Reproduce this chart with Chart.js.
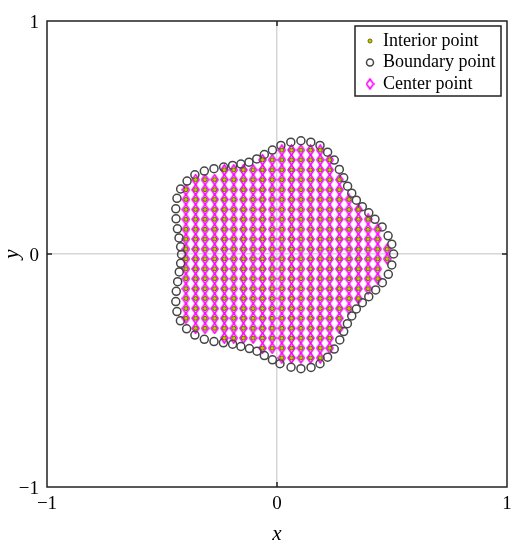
<!DOCTYPE html>
<html>
<head>
<meta charset="utf-8">
<script src="https://cdn.jsdelivr.net/npm/chart.js@4.4.1/dist/chart.umd.min.js"></script>
<style>
  html, body { margin: 0; padding: 0; background: #fff; }
  #wrap { width: 523px; height: 550px; }
</style>
</head>
<body>
<div id="wrap"><canvas id="chart" width="523" height="550"></canvas></div>
<script>
// grid columns / rows of the interior (center) points
const colX = [-0.396, -0.354, -0.313, -0.271, -0.229, -0.188, -0.146, -0.104, -0.063, -0.021,
  0.021, 0.063, 0.104, 0.146, 0.188, 0.229, 0.271, 0.313, 0.354, 0.396, 0.438, 0.479];
const rowY = [0.446, 0.404, 0.361, 0.319, 0.276, 0.234, 0.191, 0.149, 0.106, 0.064, 0.021,
  -0.021, -0.064, -0.106, -0.149, -0.191, -0.234, -0.276, -0.319, -0.361, -0.404, -0.446];
// first / last column index filled on each row
const rowFirst = [10, 8, 4, 1, 0, 0, 0, 0, 0, 0, 0, 0, 0, 0, 0, 0, 0, 0, 1, 4, 8, 10];
const rowLast  = [14, 15, 15, 16, 16, 17, 18, 19, 20, 20, 21, 21, 20, 20, 19, 18, 17, 16, 16, 15, 15, 14];

// boundary points, counter-clockwise from the right
const boundaryX = [0.507, 0.499, 0.483, 0.457, 0.426, 0.399, 0.371, 0.345, 0.325, 0.307, 0.290, 0.271, 0.249, 0.220, 0.187, 0.147, 0.104, 0.060, 0.017,
  -0.020, -0.055, -0.088, -0.122, -0.157, -0.193, -0.232, -0.274, -0.316, -0.357, -0.391, -0.419, -0.435, -0.440, -0.439, -0.433, -0.426, -0.419, -0.415,
  -0.419, -0.425, -0.432, -0.438, -0.440, -0.435, -0.420, -0.393, -0.357, -0.316, -0.274, -0.233, -0.193, -0.157, -0.120, -0.087, -0.055, -0.020, 0.013,
  0.061, 0.104, 0.148, 0.187, 0.220, 0.249, 0.273, 0.290, 0.306, 0.325, 0.345, 0.371, 0.399, 0.429, 0.458, 0.484, 0.499];
const boundaryY = [0.000, 0.042, 0.078, 0.116, 0.149, 0.177, 0.203, 0.231, 0.261, 0.291, 0.327, 0.363, 0.403, 0.437, 0.466, 0.480, 0.486, 0.480, 0.466,
  0.446, 0.427, 0.408, 0.394, 0.386, 0.380, 0.373, 0.366, 0.356, 0.340, 0.313, 0.279, 0.239, 0.194, 0.151, 0.108, 0.069, 0.031, -0.002,
  -0.040, -0.077, -0.119, -0.160, -0.204, -0.247, -0.287, -0.321, -0.348, -0.366, -0.376, -0.381, -0.387, -0.397, -0.406, -0.417, -0.436, -0.454, -0.471,
  -0.486, -0.492, -0.487, -0.471, -0.443, -0.408, -0.369, -0.333, -0.299, -0.266, -0.236, -0.209, -0.183, -0.154, -0.123, -0.087, -0.047];

const tickValues = [-1, 0, 1];
const tickLabels = ["\u22121", "0", "1"];
const seriesNames = ["Interior point", "Boundary point", "Center point"];

const SERIF = "'Liberation Serif', 'Times New Roman', serif";

// build point tables
const interior = [];
rowY.forEach((y, r) => {
  for (let c = rowFirst[r]; c <= rowLast[r]; c++) interior.push({ x: colX[c], y: y });
});
const boundary = boundaryX.map((x, i) => ({ x: x, y: boundaryY[i] }));

// magenta diamond marker (slightly taller than wide)
const diamond = document.createElement("canvas");
diamond.width = 9; diamond.height = 12;
(function () {
  const c = diamond.getContext("2d");
  c.strokeStyle = "#ff00ff";
  c.lineWidth = 1.6;
  c.beginPath();
  c.moveTo(4.5, 1); c.lineTo(8, 6); c.lineTo(4.5, 11); c.lineTo(1, 6); c.closePath();
  c.stroke();
})();

const styles = [
  { pointStyle: "circle", radius: 2, borderWidth: 1, borderColor: "#6b6b00", backgroundColor: "#c8c400" },
  { pointStyle: "circle", radius: 4, borderWidth: 1.5, borderColor: "#454545", backgroundColor: "rgba(0,0,0,0)" },
  { pointStyle: diamond, radius: 5, borderWidth: 0, borderColor: "#ff00ff", backgroundColor: "rgba(0,0,0,0)" }
];

function ds(label, data, s) {
  return {
    label: label,
    data: data,
    showLine: false,
    pointStyle: s.pointStyle,
    pointRadius: s.radius,
    pointBorderWidth: s.borderWidth,
    pointBorderColor: s.borderColor,
    pointBackgroundColor: s.backgroundColor
  };
}

// box, inner ticks and the legend
const framePlugin = {
  id: "frame",
  afterDraw(chart) {
    const ctx = chart.ctx;
    const a = chart.chartArea;
    const x0 = chart.scales.x.getPixelForValue(0);
    const y0 = chart.scales.y.getPixelForValue(0);
    ctx.save();
    ctx.strokeStyle = "#222";
    ctx.lineWidth = 1.5;
    ctx.strokeRect(a.left, a.top, a.right - a.left, a.bottom - a.top);
    ctx.beginPath();
    ctx.moveTo(x0, a.bottom); ctx.lineTo(x0, a.bottom - 5);
    ctx.moveTo(x0, a.top); ctx.lineTo(x0, a.top + 5);
    ctx.moveTo(a.left, y0); ctx.lineTo(a.left + 5, y0);
    ctx.moveTo(a.right, y0); ctx.lineTo(a.right - 5, y0);
    ctx.stroke();

    // legend
    const lx = 355, ly = 26, lw = 146, lh = 70;
    ctx.fillStyle = "#fff";
    ctx.fillRect(lx, ly, lw, lh);
    ctx.strokeStyle = "#222";
    ctx.lineWidth = 1.5;
    ctx.strokeRect(lx, ly, lw, lh);
    ctx.font = "18px " + SERIF;
    ctx.textBaseline = "middle";
    seriesNames.forEach((name, i) => {
      const cy = ly + 15 + i * 21.5;
      const s = styles[i];
      ctx.fillStyle = s.backgroundColor;
      ctx.strokeStyle = s.borderColor;
      ctx.lineWidth = s.borderWidth;
      Chart.helpers.drawPoint(ctx, { pointStyle: s.pointStyle, radius: i === 0 ? 2 : 3.5, borderWidth: s.borderWidth, rotation: 0 }, lx + 15, cy);
      ctx.fillStyle = "#000";
      ctx.fillText(name, lx + 28, cy);
    });
    ctx.restore();
  }
};

const gridColor = (c) => (c.tick && c.tick.value === 0 ? "#d6d6d6" : "rgba(0,0,0,0)");

new Chart(document.getElementById("chart"), {
  type: "scatter",
  data: {
    datasets: [
      ds(seriesNames[0], interior, styles[0]),
      ds(seriesNames[1], boundary, styles[1]),
      ds(seriesNames[2], interior, styles[2])
    ]
  },
  options: {
    responsive: false,
    animation: false,
    devicePixelRatio: 1,
    events: [],
    layout: { padding: { top: 21, right: 16, left: 0, bottom: 0 } },
    plugins: {
      legend: { display: false },
      tooltip: { enabled: false }
    },
    scales: {
      x: {
        type: "linear",
        min: -1, max: 1,
        afterBuildTicks: (s) => { s.ticks = tickValues.map(v => ({ value: v })); },
        afterFit: (s) => { s.height = 63; },
        ticks: {
          callback: (v) => tickLabels[tickValues.indexOf(v)],
          font: { family: SERIF, size: 19 },
          color: "#000",
          padding: 6,
          maxRotation: 0
        },
        grid: { color: gridColor, lineWidth: 1.5, drawTicks: false },
        border: { display: false },
        title: {
          display: true, text: "x", color: "#000",
          font: { family: SERIF, size: 21, style: "italic" },
          padding: { top: 0, bottom: 3 }
        }
      },
      y: {
        type: "linear",
        min: -1, max: 1,
        afterBuildTicks: (s) => { s.ticks = tickValues.map(v => ({ value: v })); },
        afterFit: (s) => { s.width = 47; },
        ticks: {
          callback: (v) => tickLabels[tickValues.indexOf(v)],
          font: { family: SERIF, size: 19 },
          color: "#000",
          padding: 8,
          labelOffset: 2
        },
        grid: { color: gridColor, lineWidth: 1.5, drawTicks: false },
        border: { display: false },
        title: {
          display: true, text: "y", color: "#000",
          font: { family: SERIF, size: 21, style: "italic" },
          padding: { top: 0, bottom: 0 }
        }
      }
    }
  },
  plugins: [framePlugin]
});
</script>
</body>
</html>
